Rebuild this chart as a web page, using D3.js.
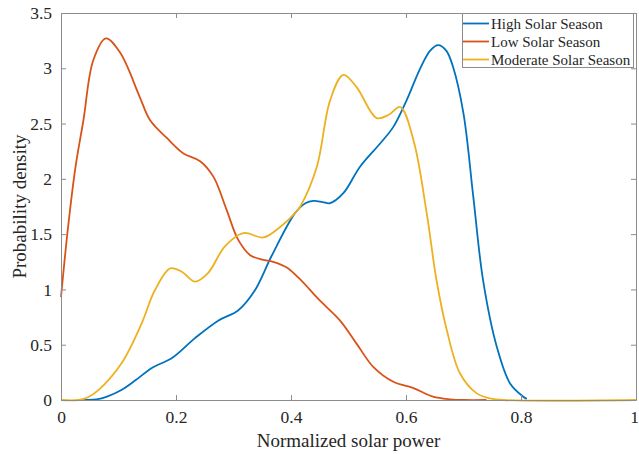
<!DOCTYPE html>
<html>
<head>
<meta charset="utf-8">
<script src="https://cdn.jsdelivr.net/npm/d3@7"></script>
<style>
  body { margin: 0; background: #fff; }
  text { font-family: "Liberation Serif", "Times New Roman", serif; fill: #262626; }
</style>
</head>
<body>
<div id="chart"></div>
<script>
// series names
const seriesNames = ['High Solar Season', 'Low Solar Season', 'Moderate Solar Season'];

// High Solar Season: [x, density]
const highX = [0.03, 0.045, 0.062, 0.08, 0.105, 0.13, 0.158, 0.193, 0.233, 0.274, 0.308, 0.337, 0.366, 0.407, 0.425, 0.439, 0.455, 0.468, 0.491, 0.52, 0.555, 0.578, 0.601, 0.624, 0.642, 0.656, 0.67, 0.682, 0.70, 0.717, 0.734, 0.758, 0.781, 0.804, 0.81];
const highY = [0, 0, 0.005, 0.03, 0.09, 0.18, 0.29, 0.38, 0.56, 0.72, 0.81, 0.99, 1.30, 1.69, 1.78, 1.80, 1.79, 1.78, 1.87, 2.11, 2.32, 2.47, 2.71, 2.99, 3.16, 3.21, 3.16, 3.01, 2.59, 1.84, 1.085, 0.48, 0.15, 0.03, 0.01];

// Low Solar Season
const lowX = [0, 0.012, 0.025, 0.039, 0.056, 0.078, 0.103, 0.137, 0.155, 0.184, 0.213, 0.242, 0.265, 0.288, 0.308, 0.329, 0.35, 0.369, 0.392, 0.416, 0.45, 0.485, 0.514, 0.543, 0.578, 0.613, 0.647, 0.677, 0.70, 0.74];
const lowY = [0.93, 1.55, 2.1, 2.53, 3.07, 3.27, 3.14, 2.74, 2.53, 2.37, 2.23, 2.16, 2.02, 1.72, 1.45, 1.31, 1.27, 1.25, 1.20, 1.09, 0.90, 0.72, 0.51, 0.30, 0.165, 0.108, 0.03, 0.006, 0, 0];

// Moderate Solar Season
const modX = [0, 0.03, 0.045, 0.065, 0.105, 0.14, 0.163, 0.19, 0.21, 0.233, 0.256, 0.285, 0.317, 0.352, 0.38, 0.407, 0.416, 0.445, 0.468, 0.491, 0.514, 0.549, 0.57, 0.59, 0.613, 0.636, 0.653, 0.671, 0.694, 0.723, 0.746, 0.77, 1];
const modY = [0, 0, 0.02, 0.09, 0.33, 0.69, 0.99, 1.19, 1.16, 1.07, 1.15, 1.39, 1.51, 1.47, 1.56, 1.69, 1.75, 2.11, 2.71, 2.94, 2.83, 2.55, 2.58, 2.65, 2.35, 1.69, 1.085, 0.63, 0.24, 0.06, 0.015, 0, 0];

const xTicks = [0, 0.2, 0.4, 0.6, 0.8, 1];
const yTicks = [0, 0.5, 1, 1.5, 2, 2.5, 3, 3.5];

const colors = ['#0072BD', '#D95319', '#EDB120'];

const width = 639, height = 454;
const margin = {left: 61, right: 3, top: 13, bottom: 54};

const svg = d3.select('#chart').append('svg')
  .attr('width', width)
  .attr('height', height);

const x = d3.scaleLinear().domain([0, 1]).range([margin.left, width - margin.right]);
const y = d3.scaleLinear().domain([0, 3.5]).range([height - margin.bottom, margin.top]);

const series = [
  highX.map((v, i) => [v, highY[i]]),
  lowX.map((v, i) => [v, lowY[i]]),
  modX.map((v, i) => [v, modY[i]])
];

const line = d3.line()
  .x(d => x(d[0]))
  .y(d => y(Math.max(0, d[1])))
  .curve(d3.curveCatmullRom.alpha(0.5));

// curves
series.forEach((s, i) => {
  svg.append('path')
    .datum(s)
    .attr('fill', 'none')
    .attr('stroke', colors[i])
    .attr('stroke-width', 1.8)
    .attr('d', line);
});

// axes
const axisColor = '#8c8c8c';
const tickLen = 5;

const xAxis = svg.append('g')
  .attr('transform', `translate(0,${y(0)})`)
  .call(d3.axisBottom(x).tickValues(xTicks).tickSizeInner(-tickLen).tickSizeOuter(0).tickPadding(11).tickFormat(d3.format('')));
const yAxis = svg.append('g')
  .attr('transform', `translate(${x(0)},0)`)
  .call(d3.axisLeft(y).tickValues(yTicks).tickSizeInner(-tickLen).tickSizeOuter(0).tickPadding(9).tickFormat(d3.format('')));
const xTop = svg.append('g')
  .attr('transform', `translate(0,${y(3.5)})`)
  .call(d3.axisTop(x).tickValues(xTicks).tickSizeInner(-tickLen).tickSizeOuter(0).tickFormat(''));
const yRight = svg.append('g')
  .attr('transform', `translate(${x(1)},0)`)
  .call(d3.axisRight(y).tickValues(yTicks).tickSizeInner(-tickLen).tickSizeOuter(0).tickFormat(''));

[xAxis, yAxis, xTop, yRight].forEach(g => {
  g.selectAll('path, line').attr('stroke', axisColor);
  g.selectAll('text')
    .style('font-family', '"Liberation Serif", "Times New Roman", serif')
    .style('font-size', '17.5px')
    .attr('fill', '#262626');
});
// keep the last x label inside the window
xAxis.selectAll('.tick text').filter(d => d === 1).attr('dx', -2);

// axis labels
svg.append('text')
  .attr('x', (x(0) + x(1)) / 2)
  .attr('y', 447)
  .attr('text-anchor', 'middle')
  .style('font-size', '19px')
  .text('Normalized solar power');

svg.append('text')
  .attr('transform', `translate(26,${(y(0) + y(3.5)) / 2}) rotate(-90)`)
  .attr('text-anchor', 'middle')
  .style('font-size', '19px')
  .text('Probability density');

// legend
const lg = svg.append('g');
lg.append('rect')
  .attr('x', 462.5).attr('y', 13.5)
  .attr('width', 171).attr('height', 54)
  .attr('fill', '#fff')
  .attr('stroke', axisColor)
  .attr('stroke-width', 1);

seriesNames.forEach((name, i) => {
  const cy = 23.5 + i * 18;
  lg.append('line')
    .attr('x1', 463).attr('x2', 489)
    .attr('y1', cy).attr('y2', cy)
    .attr('stroke', colors[i])
    .attr('stroke-width', 1.8);
  lg.append('text')
    .attr('x', 491)
    .attr('y', cy + 5)
    .style('font-size', '15px')
    .text(name);
});
</script>
</body>
</html>
